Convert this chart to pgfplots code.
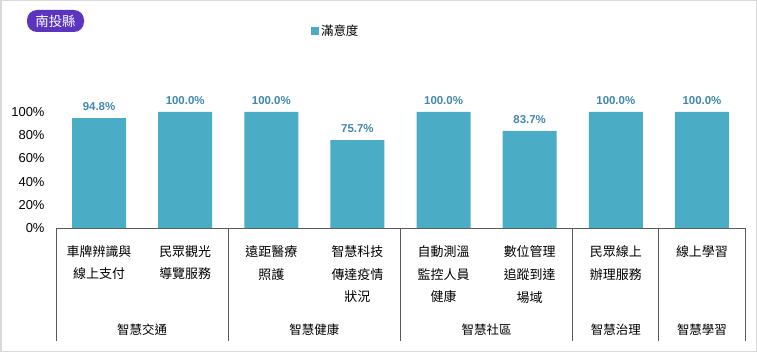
\documentclass[border=0pt]{standalone}
\usepackage{pgfplots}
\pgfplotsset{compat=1.18}
\usepackage{fontspec}
\setmainfont{Liberation Sans}
\newfontfamily\cjk{Noto Sans CJK TC}
\definecolor{barc}{HTML}{4BACC6}
\definecolor{valc}{HTML}{3F88AE}
\definecolor{purp}{HTML}{5B35BF}
\definecolor{axc}{HTML}{595959}
\begin{document}
\begin{tikzpicture}
\fill[white] (0,0) rectangle (757bp,352bp);
\draw[line width=1.5bp, draw={rgb,255:red,217;green,217;blue,217}] (0.75bp,0.75bp) rectangle (756.25bp,351.25bp);
% badge
\node[fill=purp, rounded corners=10bp, minimum width=57bp, minimum height=22bp, inner sep=0pt, text=white, font=\cjk\fontsize{13.5}{16}\selectfont] at (55.5bp,331bp) {南投縣};
\begin{axis}[
  at={(56bp,124bp)}, anchor=south west,
  scale only axis, width=689bp, height=116bp,
  xmin=-0.5, xmax=7.5, ymin=0, ymax=100,
  clip=false,
  axis x line*=bottom, axis y line*=left,
  x axis line style={draw=axc, line width=1bp, -},
  y axis line style={draw=none},
  xtick=\empty,
  ytick={0,20,40,60,80,100},
  yticklabel={\pgfmathprintnumber{\tick}\%},
  major tick length=0pt,
  /pgf/number format/assume math mode=true,
  yticklabel style={font=\fontsize{13}{15}\selectfont, text=black, anchor=east, xshift=-8bp},
  ybar, bar width=54bp,
  nodes near coords={\pgfmathprintnumber[fixed,fixed zerofill,precision=1]{\pgfplotspointmeta}\%},
  every node near coord/.append style={font=\bfseries\fontsize{11.5}{13}\selectfont, text=valc, yshift=4bp},
  legend style={at={(0.406,1.698)}, anchor=center, draw=none, fill=none, font=\cjk\fontsize{12.5}{14}\selectfont, inner sep=0pt},
  legend image code/.code={\fill[barc] (0bp,-4bp) rectangle (8bp,4bp);},
]
\addplot[fill=barc, draw=none] coordinates {(0,94.8) (1,100) (2,100) (3,75.7) (4,100) (5,83.7) (6,100) (7,100)};
\addlegendentry{滿意度}
% separators
\draw[axc, line width=1bp] (axis cs:-0.5,0) -- ([yshift=-113bp]axis cs:-0.5,0);
\draw[axc, line width=1bp] (axis cs:1.5,0) -- ([yshift=-113bp]axis cs:1.5,0);
\draw[axc, line width=1bp] (axis cs:3.5,0) -- ([yshift=-113bp]axis cs:3.5,0);
\draw[axc, line width=1bp] (axis cs:5.5,0) -- ([yshift=-113bp]axis cs:5.5,0);
\draw[axc, line width=1bp] (axis cs:6.5,0) -- ([yshift=-113bp]axis cs:6.5,0);
\draw[axc, line width=1bp] (axis cs:7.5,0) -- ([yshift=-113bp]axis cs:7.5,0);
% category labels
\tikzset{cat/.style={anchor=north, align=center, inner sep=0pt, yshift=-17bp, font=\cjk\fontsize{13}{23}\selectfont}}
\node[cat] at (axis cs:0,0) {車牌辨識與\\線上支付};
\node[cat] at (axis cs:1,0) {民眾觀光\\導覽服務};
\node[cat] at (axis cs:2,0) {遠距醫療\\照護};
\node[cat] at (axis cs:3,0) {智慧科技\\傳達疫情\\狀況};
\node[cat] at (axis cs:4,0) {自動測溫\\監控人員\\健康};
\node[cat] at (axis cs:5,0) {數位管理\\追蹤到達\\場域};
\node[cat] at (axis cs:6,0) {民眾線上\\辦理服務};
\node[cat] at (axis cs:7,0) {線上學習};
% group labels
\tikzset{grp/.style={anchor=center, inner sep=0pt, yshift=-102bp, font=\cjk\fontsize{12.5}{15}\selectfont}}
\node[grp] at (axis cs:0.5,0) {智慧交通};
\node[grp] at (axis cs:2.5,0) {智慧健康};
\node[grp] at (axis cs:4.5,0) {智慧社區};
\node[grp] at (axis cs:6,0) {智慧治理};
\node[grp] at (axis cs:7,0) {智慧學習};
\end{axis}
\end{tikzpicture}
\end{document}
